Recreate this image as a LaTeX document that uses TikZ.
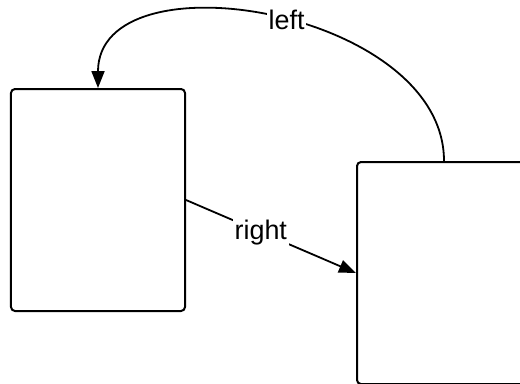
\documentclass[tikz,border=0pt]{standalone}
\usepackage{fontspec}
\setmainfont{Liberation Sans}
\usetikzlibrary{arrows.meta}

\tikzset{
  statebox/.style={draw, line width=2bp, rounded corners=4bp, minimum width=174bp, minimum height=222bp},
  trans/.style={line width=1.8bp, -{Triangle[length=17bp,width=13bp]}},
  translabel/.style={fill=white, inner sep=2bp, font=\fontsize{27}{32}\selectfont}
}

\begin{document}
\begin{tikzpicture}[x=1bp, y=-1bp]
      \clip (0, 0) rectangle (520, 383);

      % states
      \node[statebox] (S_left) at (98, 200) {};
      \node[statebox] (S_right) at (444, 273) {};

      % arrows
      \draw[trans] (S_left.east) -- node[translabel, pos=0.44] {right} (S_right.west);
      \draw[trans] (S_right.north) .. controls +(0, -152) and +(0, -135) .. node[translabel, pos=0.47] {left} (S_left.north);
\end{tikzpicture}
\end{document}
